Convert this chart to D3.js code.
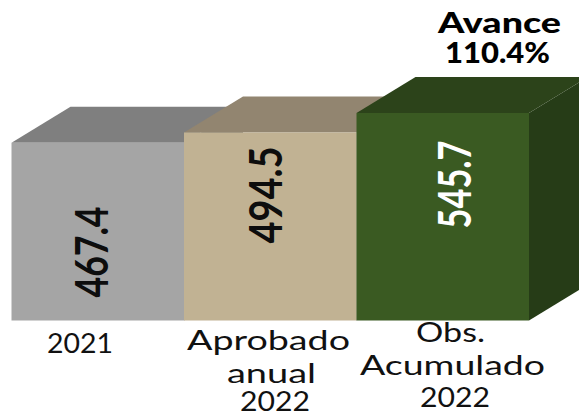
<!DOCTYPE html>
<html>
<head>
<meta charset="utf-8">
<script src="https://cdn.jsdelivr.net/npm/d3@7"></script>
<style>
html,body{margin:0;padding:0;background:#fff;}
svg{display:block;}
text{font-family:Lato,"Open Sans",sans-serif;}
</style>
</head>
<body>
<div id="chart"></div>
<script>
var categories = ["2021", "Aprobado anual 2022", "Obs. Acumulado 2022"];
var values = [467.4, 494.5, 545.7];
var avanceLines = ["Avance", "110.4%"];

var width = 579, height = 413;
var frontColors = ["#a5a5a5", "#c1b293", "#3a5a22"];
var topColors = ["#7f7f7f", "#928570", "#2c431a"];
var sideColors = ["#6e6e6e", "#7d7260", "#263c17"];
var labelColors = ["#0d0d0d", "#0d0d0d", "#ffffff"];

var depthX = 59, depthY = 36;

var x = d3.scaleBand()
    .domain(categories)
    .range([11.5, 529]);
var y = d3.scaleLinear()
    .domain([0, 545.7])
    .range([320.5, 113]);

var svg = d3.select("#chart").append("svg")
    .attr("width", width)
    .attr("height", height);

function pts(a){
    return a.map(p=>p.join(",")).join(" ");
}

var bars = svg.selectAll("g.bar")
    .data(categories)
    .enter().append("g")
    .attr("class", "bar");

// side first so the next bar covers it
bars.append("polygon")
    .attr("fill", (d,i)=>sideColors[i])
    .attr("points", (d,i)=>{
        var r = x(d)+x.bandwidth();
        return pts([[r,y(values[i])],[r+depthX,y(values[i])-depthY],[r+depthX,y(0)-depthY],[r,y(0)]]);
    });
bars.append("polygon")
    .attr("fill", (d,i)=>topColors[i])
    .attr("points", (d,i)=>{
        var l = x(d), r = l+x.bandwidth(), t = y(values[i]);
        return pts([[l,t],[l+depthX,t-depthY],[r+depthX,t-depthY],[r,t]]);
    });
bars.append("rect")
    .attr("fill", (d,i)=>frontColors[i])
    .attr("x", d=>x(d))
    .attr("y", (d,i)=>y(values[i]))
    .attr("width", x.bandwidth())
    .attr("height", (d,i)=>y(0)-y(values[i]));

// value labels, rotated, stretched along the bar like the source image
var labelAt = [[108,252],[282,195],[471,184.5]];
svg.selectAll("text.value")
    .data(values)
    .enter().append("text")
    .attr("class", "value")
    .attr("transform", (d,i)=>"translate("+labelAt[i][0]+","+labelAt[i][1]+") rotate(-90)")
    .attr("text-anchor", "middle")
    .attr("font-size", 45)
    .attr("font-weight", 700)
    .attr("textLength", (d,i)=>i==2?88:(i==1?97:91))
    .attr("lengthAdjust", "spacingAndGlyphs")
    .attr("fill", (d,i)=>labelColors[i])
    .text(d=>d.toFixed(1));

// category labels
var catLines = [
    [{t:"2021",cx:80,y:353,w:66}],
    [{t:"Aprobado",cx:268.5,y:350,w:163},{t:"anual",cx:271.5,y:383,w:89},{t:"2022",cx:275,y:411,w:70}],
    [{t:"Obs.",cx:450.5,y:342,w:69},{t:"Acumulado",cx:452.5,y:375,w:185},{t:"2022",cx:455,y:407,w:70}]
];
svg.selectAll("text.cat")
    .data(catLines.flat())
    .enter().append("text")
    .attr("class", "cat")
    .attr("x", d=>d.cx)
    .attr("y", d=>d.y)
    .attr("text-anchor", "middle")
    .attr("font-size", 27)
    .attr("fill", "#111")
    .attr("textLength", d=>d.w)
    .attr("lengthAdjust", "spacingAndGlyphs")
    .text(d=>d.t);

svg.selectAll("text.avance")
    .data(avanceLines)
    .enter().append("text")
    .attr("class", "avance")
    .attr("x", (d,i)=>i==0?499.5:497.5)
    .attr("y", (d,i)=>i==0?33:63)
    .attr("text-anchor", "middle")
    .attr("font-size", 28)
    .attr("font-weight", 900)
    .attr("fill", "#000")
    .attr("textLength", (d,i)=>i==0?123:105)
    .attr("lengthAdjust", "spacingAndGlyphs")
    .text(d=>d);
</script>
</body>
</html>
